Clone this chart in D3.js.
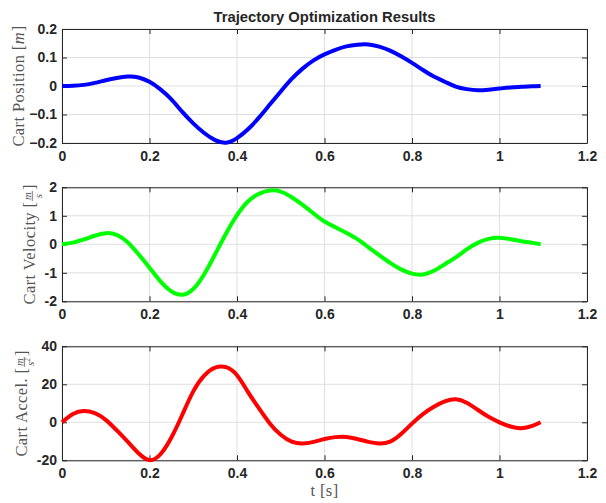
<!DOCTYPE html>
<html><head><meta charset="utf-8">
<script src="https://cdn.jsdelivr.net/npm/d3@7"></script>
<style>body{margin:0;background:#fff}</style>
</head><body><svg id="c" width="606" height="503"></svg>
<script>
// Sample times [s] shared by all three traces
const time = [0, 0.025, 0.05, 0.075, 0.1, 0.125, 0.15, 0.175, 0.2, 0.225, 0.25, 0.275, 0.3, 0.325, 0.35, 0.375,
  0.4, 0.425, 0.45, 0.475, 0.5, 0.525, 0.55, 0.575, 0.6, 0.625, 0.65, 0.675, 0.7, 0.725, 0.75, 0.775,
  0.8, 0.825, 0.85, 0.875, 0.9, 0.925, 0.95, 0.975, 1.0, 1.025, 1.05, 1.075, 1.094];

// Cart position [m]
const position = [0, 0.001, 0.004, 0.011, 0.02, 0.028, 0.033, 0.03, 0.0145, -0.012, -0.047, -0.091, -0.131, -0.165, -0.19, -0.199,
  -0.183, -0.152, -0.111, -0.065, -0.019, 0.025, 0.061, 0.09, 0.111, 0.127, 0.139, 0.145, 0.146, 0.138, 0.124, 0.104,
  0.081, 0.056, 0.033, 0.015, -0.002, -0.011, -0.015, -0.013, -0.009, -0.005, -0.003, -0.001, 0];

// Cart velocity [m/s]
const velocity = [0, 0.06, 0.17, 0.3, 0.39, 0.33, 0.07, -0.35, -0.82, -1.3, -1.65, -1.77, -1.57, -1.05, -0.35, 0.38,
  1.02, 1.5, 1.77, 1.89, 1.85, 1.65, 1.38, 1.08, 0.8, 0.6, 0.4, 0.18, -0.1, -0.38, -0.65, -0.88,
  -1.03, -1.06, -0.93, -0.7, -0.46, -0.18, 0.05, 0.19, 0.23, 0.18, 0.11, 0.05, 0];

// Cart acceleration [m/s^2]
const accel = [0, 4.4, 5.9, 4.8, 1.3, -4.2, -10.2, -16.3, -19.9, -16.8, -8, 4, 16.3, 24.6, 28.8, 29,
  24.8, 16, 7.4, -0.6, -6.6, -10.2, -11.2, -10.3, -8.8, -7.8, -7.7, -8.8, -10.3, -11.1, -10.2, -6.2,
  -0.7, 4.3, 8.2, 11, 12.1, 10.3, 6.6, 2.9, 0, -2.2, -3.1, -1.9, 0];

const xTicks = [0, 0.2, 0.4, 0.6, 0.8, 1, 1.2];
const posTicks = [-0.2, -0.1, 0, 0.1, 0.2];
const velTicks = [-2, -1, 0, 1, 2];
const accTicks = [-20, 0, 20, 40];

const titleText = "Trajectory Optimization Results";

const svg = d3.select("#c");
const left = 62, right = 587;
const x = d3.scaleLinear().domain([0, 1.2]).range([left, right]);

const panels = [
  {v: position, ticks: posTicks, domain: [-0.2, 0.2], top: 29, bottom: 143, color: "#0000ff",
   fmt: d => d === 0 ? "0" : d3.format(".1f")(d), labelX: 19,
   label: [{txt: "Cart Position "}, {txt: "["}, {txt: "m", italic: true}, {txt: "]"}]},
  {v: velocity, ticks: velTicks, domain: [-2, 2], top: 187.3, bottom: 301.3, color: "#00ff00",
   fmt: d => String(d), labelX: 30,
   label: [{txt: "Cart Velocity "}, {txt: "["}, {frac: ["m", "s"]}, {txt: "]"}]},
  {v: accel, ticks: accTicks, domain: [-20, 40], top: 346.3, bottom: 460.3, color: "#ff0000",
   fmt: d => String(d), labelX: 22,
   label: [{txt: "Cart Accel. "}, {txt: "["}, {frac: ["m", "s2"]}, {txt: "]"}]}
];

const axisColor = "#262626";
const gridColor = "#dfdfdf";
const labelColor = "#555555";
const serif = "'Liberation Serif','DejaVu Serif',serif";
const sans = "'Liberation Sans',Arial,sans-serif";

panels.forEach(p => {
  const y = d3.scaleLinear().domain(p.domain).range([p.bottom, p.top]);
  const g = svg.append("g");

  // grid
  g.selectAll(".gx").data(xTicks).join("line")
    .attr("x1", d => x(d)).attr("x2", d => x(d)).attr("y1", p.top).attr("y2", p.bottom)
    .attr("stroke", gridColor).attr("stroke-width", 1);
  g.selectAll(".gy").data(p.ticks).join("line")
    .attr("x1", left).attr("x2", right).attr("y1", d => y(d)).attr("y2", d => y(d))
    .attr("stroke", gridColor).attr("stroke-width", 1);

  // axes with inward ticks, boxed on all four sides
  const tickLen = 5;
  const styleAxis = sel => {
    sel.select(".domain").attr("stroke", axisColor);
    sel.selectAll(".tick line").attr("stroke", axisColor);
    sel.selectAll("text").attr("fill", axisColor).attr("font-family", sans)
      .attr("font-weight", "bold").attr("font-size", 14);
  };
  g.append("g").attr("transform", `translate(0,${p.bottom})`)
    .call(d3.axisBottom(x).tickValues(xTicks).tickFormat(d => String(d)).tickSizeInner(-tickLen).tickSizeOuter(0).tickPadding(8))
    .call(styleAxis);
  g.append("g").attr("transform", `translate(0,${p.top})`)
    .call(d3.axisTop(x).tickValues(xTicks).tickFormat("").tickSizeInner(-tickLen).tickSizeOuter(0))
    .call(styleAxis);
  g.append("g").attr("transform", `translate(${left},0)`)
    .call(d3.axisLeft(y).tickValues(p.ticks).tickFormat(p.fmt).tickSizeInner(-tickLen).tickSizeOuter(0).tickPadding(5))
    .call(styleAxis);
  g.append("g").attr("transform", `translate(${right},0)`)
    .call(d3.axisRight(y).tickValues(p.ticks).tickFormat("").tickSizeInner(-tickLen).tickSizeOuter(0))
    .call(styleAxis);

  // data curve
  const pts = time.map((t, i) => [t, p.v[i]]);
  g.append("path").datum(pts)
    .attr("fill", "none").attr("stroke", p.color).attr("stroke-width", 4)
    .attr("stroke-linejoin", "round").attr("stroke-linecap", "butt")
    .attr("d", d3.line().x(d => x(d[0])).y(d => y(d[1])).curve(d3.curveNatural));

  // rotated y label built from pieces
  const yc = (p.top + p.bottom) / 2;
  const lg = g.append("g").attr("transform", `translate(${p.labelX},${yc}) rotate(-90)`);
  const inner = lg.append("g");
  let cx = 0;
  p.label.forEach(part => {
    if (part.frac) {
      const num = inner.append("text").attr("x", cx).attr("y", -4.5).attr("font-family", serif)
        .attr("font-style", "italic").attr("font-size", 11).attr("fill", labelColor).text(part.frac[0]);
      const den = inner.append("text").attr("x", cx).attr("y", 6.5).attr("font-family", serif)
        .attr("font-style", "italic").attr("font-size", 11).attr("fill", labelColor);
      den.append("tspan").text(part.frac[1][0]);
      if (part.frac[1].length > 1) den.append("tspan").attr("font-size", 7.5).attr("dy", -4).attr("font-style", "normal").text(part.frac[1].slice(1));
      const w = Math.max(num.node().getComputedTextLength(), den.node().getComputedTextLength()) + 1;
      num.attr("x", cx + 1 + (w - num.node().getComputedTextLength()) / 2);
      den.attr("x", cx + 1 + (w - den.node().getComputedTextLength()) / 2);
      inner.append("line").attr("x1", cx + 0.5).attr("x2", cx + w + 1.5).attr("y1", -2.7).attr("y2", -2.7)
        .attr("stroke", labelColor).attr("stroke-width", 0.8);
      cx += w + 2.5;
    } else {
      const t = inner.append("text").attr("x", cx).attr("y", 0).attr("font-family", serif)
        .attr("font-size", 16.5).attr("fill", labelColor)
        .style("white-space", "pre").attr("letter-spacing", part.italic ? 0 : 0.4)
        .attr("font-style", part.italic ? "italic" : "normal").text(part.txt);
      cx += t.node().getComputedTextLength() + (part.italic ? 1 : 0);
    }
  });
  inner.attr("transform", `translate(${-cx / 2},5)`);
});

// x label
svg.append("text").attr("x", (left + right) / 2).attr("y", 496).attr("text-anchor", "middle")
  .attr("font-family", serif).attr("font-size", 16.5).attr("fill", labelColor).style("white-space", "pre")
  .attr("letter-spacing", 0.4).text("t [s]");

// title
svg.append("text").attr("x", (left + right) / 2).attr("y", 22).attr("text-anchor", "middle")
  .attr("font-family", sans).attr("font-weight", "bold").attr("font-size", 14.8).attr("fill", axisColor)
  .text(titleText);
</script></body></html>
